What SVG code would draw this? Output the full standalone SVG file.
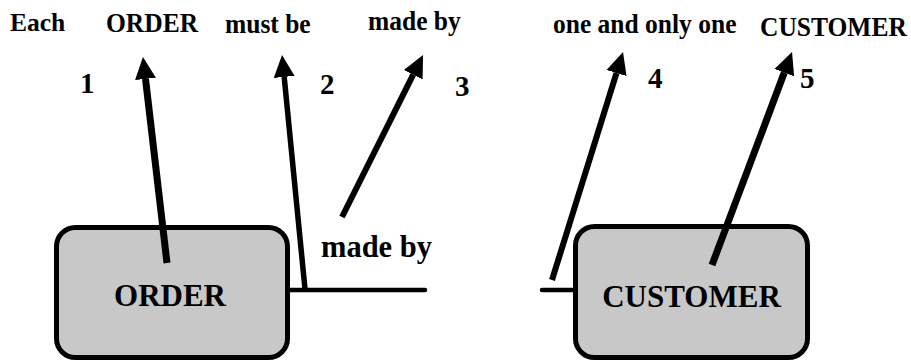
<svg xmlns="http://www.w3.org/2000/svg" width="911" height="363" viewBox="0 0 911 363">
  <style>
    .t { font-family: 'Liberation Serif', 'Times New Roman', Times, serif; font-weight: bold; fill: #000; }
    .top { font-size: 25.5px; }
    .num { font-size: 29px; }
    .ent { font-size: 31px; text-anchor: middle; }
    .rel { font-size: 30.5px; }
    .box { fill: #c8c8c8; stroke: #000; stroke-width: 5; }
    .link { stroke: #000; stroke-width: 4.5; stroke-linecap: round; fill: none; }
    .ptr { stroke: #000; fill: none; marker-end: url(#head); }
  </style>
  <defs>
    <marker id="head" markerUnits="userSpaceOnUse" markerWidth="24" markerHeight="24" viewBox="0 -12 24 24" refX="0" refY="0" orient="auto">
      <path d="M0,-10.5 L22,0 L0,10.5 Z" fill="#000"/>
    </marker>
  </defs>

  <!-- sentence words along the top -->
  <g id="words" class="t">
    <text class="top" x="10" y="31">Each</text>
    <text class="top" transform="translate(106,32) scale(1,1.1)">ORDER</text>
    <text class="top" transform="translate(225,33) scale(1,1.1)">must be</text>
    <text class="top" transform="translate(368,30) scale(1,1.1)">made by</text>
    <text class="top" transform="translate(553,33) scale(1,1.1)">one and only one</text>
    <text class="top" transform="translate(760,36) scale(1,1.1)">CUSTOMER</text>
  </g>

  <!-- step numbers -->
  <g id="numbers" class="t">
    <text class="num" x="80" y="93">1</text>
    <text class="num" x="320" y="94">2</text>
    <text class="num" x="455" y="96">3</text>
    <text class="num" x="648" y="88">4</text>
    <text class="num" x="800" y="88">5</text>
  </g>

  <!-- entities -->
  <g id="order">
    <rect class="box" x="56.5" y="227.5" width="231" height="130" rx="19"/>
    <text class="t ent" x="170" y="306">ORDER</text>
  </g>
  <g id="customer">
    <rect class="box" x="575.5" y="226.5" width="232" height="131" rx="19"/>
    <text class="t ent" x="691.5" y="306.5">CUSTOMER</text>
  </g>

  <!-- relationship name -->
  <g id="relationship">
    <text class="t rel" x="321" y="257">made by</text>
  </g>

  <!-- relationship line and reading-order pointers -->
  <g id="connectors">
    <line class="link" x1="289" y1="290" x2="425" y2="290"/>
    <line class="link" x1="542" y1="290" x2="574" y2="290"/>
    <line class="ptr" stroke-width="7" x1="167" y1="263" x2="145.5" y2="78.9"/>
    <line class="ptr" stroke-width="5.5" x1="305" y1="289" x2="284.2" y2="76.9"/>
    <line class="ptr" stroke-width="6" x1="342" y1="217" x2="413.2" y2="74.7"/>
    <line class="ptr" stroke-width="6" x1="552" y1="280" x2="616.5" y2="73.0"/>
    <line class="ptr" stroke-width="7" x1="712" y1="265" x2="784.3" y2="72.6"/>
  </g>
</svg>
